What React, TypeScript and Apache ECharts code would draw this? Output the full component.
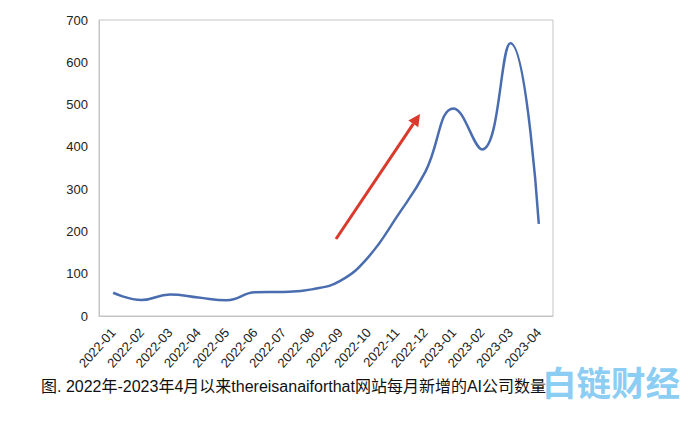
import React, { useEffect, useRef } from "react";
import * as echarts from "echarts";

const months = [
  "2022-01", "2022-02", "2022-03", "2022-04", "2022-05", "2022-06", "2022-07", "2022-08",
  "2022-09", "2022-10", "2022-11", "2022-12", "2023-01", "2023-02", "2023-03", "2023-04",
];
const newCompanies = [55, 38, 51, 44, 37, 56, 57, 63, 83, 140, 235, 341, 491, 394, 645, 218];
const yTicks = { min: 0, max: 700, interval: 100 };
const caption = "图. 2022年-2023年4月以来thereisanaiforthat网站每月新增的AI公司数量";
const watermark = "白链财经";

export default function App() {
  const ref = useRef<HTMLDivElement>(null);
  useEffect(() => {
    document.body.style.margin = "0";
    const chart = echarts.init(ref.current!, null, { renderer: "svg" });
    const tail = [336, 239];
    const tip = [420, 114];
    const dx = tip[0] - tail[0];
    const dy = tip[1] - tail[1];
    const len = Math.sqrt(dx * dx + dy * dy);
    const ux = dx / len, uy = dy / len;
    const hl = 12, hw = 6;
    const bx = tip[0] - hl * ux, by = tip[1] - hl * uy;
    const px = -uy, py = ux;
    chart.setOption({
      animation: false,
      backgroundColor: "#ffffff",
      grid: {
        left: 99, top: 20, right: 135, bottom: 114,
        show: true, borderColor: "#c4c4c4", borderWidth: 1,
      },
      xAxis: {
        type: "category",
        data: months,
        boundaryGap: true,
        axisLine: { show: true, lineStyle: { color: "#c4c4c4", width: 1 } },
        axisTick: { show: false },
        axisLabel: {
          rotate: 48, interval: 0, color: "#222", fontSize: 13,
          fontFamily: "Liberation Sans, Arial, sans-serif", margin: 14,
        },
        splitLine: { show: false },
      },
      yAxis: {
        type: "value",
        min: yTicks.min, max: yTicks.max, interval: yTicks.interval,
        axisLine: { show: true, lineStyle: { color: "#c4c4c4", width: 1 } },
        axisTick: { show: false },
        splitLine: { show: false },
        axisLabel: {
          color: "#222", fontSize: 13, margin: 11,
          fontFamily: "Liberation Sans, Arial, sans-serif",
        },
      },
      series: [
        {
          type: "line",
          data: newCompanies,
          smooth: 0.45,
          showSymbol: false,
          lineStyle: { color: "#4a6db0", width: 2.5 },
          itemStyle: { color: "#4a6db0" },
        },
      ],
      graphic: [
        {
          type: "line",
          shape: { x1: tail[0], y1: tail[1], x2: bx, y2: by },
          style: { stroke: "#d93a2b", lineWidth: 3 },
        },
        {
          type: "polygon",
          shape: {
            points: [
              [tip[0], tip[1]],
              [bx + hw * px, by + hw * py],
              [bx - hw * px, by - hw * py],
            ],
          },
          style: { fill: "#d93a2b" },
        },
        {
          type: "text",
          left: 542, top: 364,
          z: 1,
          style: {
            text: watermark, fill: "#7cc6f2", opacity: 0.9,
            font: "bold 34.5px 'Noto Sans CJK SC', sans-serif",
          },
        },
        {
          type: "text",
          left: 41, top: 378,
          z: 10,
          style: {
            text: caption, fill: "#111",
            font: "16px 'Liberation Sans', 'Noto Sans CJK SC', sans-serif",
          },
        },
      ],
    });
    return () => chart.dispose();
  }, []);
  return (
    <div
      ref={ref}
      style={{ position: "fixed", left: 0, top: 0, width: 688, height: 430 }}
    />
  );
}
